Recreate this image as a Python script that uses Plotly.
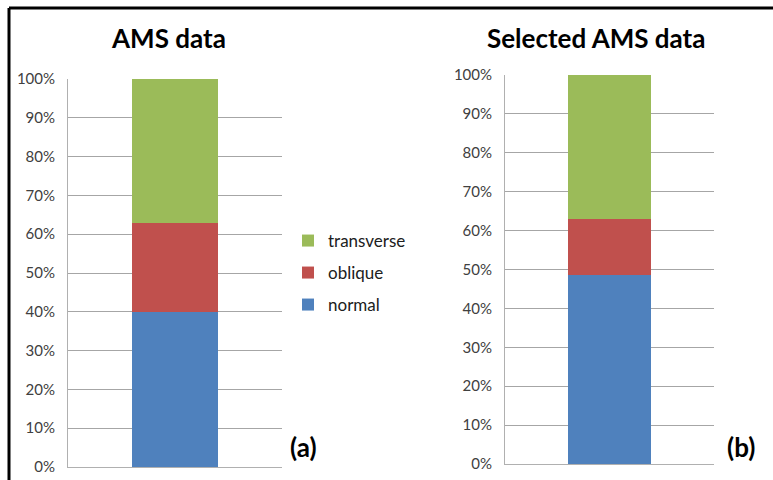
import plotly.graph_objects as go
from plotly.subplots import make_subplots

# data
panel_titles = ["AMS data", "Selected AMS data"]
panel_tags = ["(a)", "(b)"]
category = [""]
normal = [40, 48.5]
oblique = [23, 14.5]
transverse = [37, 37]
tick_vals = [0, 10, 20, 30, 40, 50, 60, 70, 80, 90, 100]
tick_text = [f"{v}%" for v in tick_vals]

series = [
    ("normal", normal, "#4f81bd", "legend3"),
    ("oblique", oblique, "#c0504d", "legend2"),
    ("transverse", transverse, "#9bbb59", "legend"),
]

W, H = 773, 480
FONT = "Lato, Open Sans, sans-serif"

fig = make_subplots(rows=1, cols=2)

for i in range(2):
    for name, vals, col, leg in series:
        fig.add_trace(
            go.Bar(x=category, y=[vals[i]], name=name, marker_color=col,
                   marker_line_width=0, width=0.4, showlegend=(i == 0),
                   legend=leg),
            row=1, col=i + 1)

def legend_at(ypix):
    return dict(x=288 / W, y=1 - ypix / H, xanchor="left", yanchor="middle",
                font=dict(size=17, color="#202020"), bgcolor="rgba(0,0,0,0)",
                itemwidth=30)

fig.update_layout(
    barmode="stack",
    width=W, height=H,
    margin=dict(l=0, r=0, t=0, b=0, autoexpand=False),
    paper_bgcolor="white", plot_bgcolor="white",
    font=dict(family=FONT, size=13, color="#404040"),
    xaxis=dict(domain=[68 / W, 282 / W]),
    yaxis=dict(domain=[13 / H, 401 / H]),
    xaxis2=dict(domain=[505 / W, 714 / W]),
    yaxis2=dict(domain=[16 / H, 405 / H]),
    legend=legend_at(241),
    legend2=legend_at(273),
    legend3=legend_at(305),
)

fig.update_xaxes(range=[-0.5, 0.5], showticklabels=False, showgrid=False,
                 showline=True, linecolor="#b0b0b0", linewidth=1, ticks="",
                 zeroline=False, automargin=False)
fig.update_yaxes(range=[0, 100], tickmode="array", tickvals=tick_vals,
                 ticktext=tick_text, showgrid=True, gridcolor="#a6a6a6",
                 gridwidth=1, showline=True, linecolor="#b0b0b0", linewidth=1,
                 zeroline=False, ticks="", ticklen=0, ticklabelstandoff=9,
                 automargin=False,
                 tickfont=dict(size=15, color="#404040"))

# panel titles and tags
title_x = [168, 596]
tag_x = [303, 741]
for i in range(2):
    fig.add_annotation(x=title_x[i] / W, y=1 - 38 / H, xref="paper", yref="paper",
                       xanchor="center", yanchor="middle",
                       text="<b>" + panel_titles[i] + "</b>", showarrow=False,
                       font=dict(size=26, color="black", family=FONT))
    fig.add_annotation(x=tag_x[i] / W, y=1 - 447 / H, xref="paper", yref="paper",
                       xanchor="center", yanchor="middle",
                       text="<b>" + panel_tags[i] + "</b>", showarrow=False,
                       font=dict(size=26, color="black", family=FONT))

# frame lines (top and left)
fig.add_shape(type="line", xref="paper", yref="paper", x0=9 / W, x1=1,
              y0=1 - 8 / H, y1=1 - 8 / H, line=dict(color="black", width=3))
fig.add_shape(type="line", xref="paper", yref="paper", x0=9 / W, x1=9 / W,
              y0=0, y1=1 - 8 / H, line=dict(color="black", width=3))

fig.write_html("out.html", config={"displayModeBar": False},
               post_script="document.body.style.margin='0';")
